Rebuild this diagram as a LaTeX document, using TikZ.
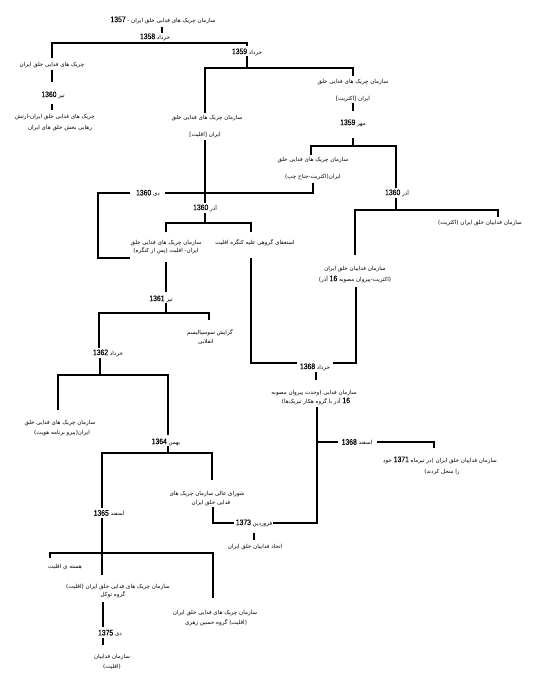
\documentclass[tikz,border=0pt]{standalone}
\usepackage{fontspec}
\TeXXeTstate=1
\newfontfamily\fa[Script=Arabic]{DejaVu Sans}
\newfontfamily\lat[FakeStretch=0.85,FakeBold=0.25]{Liberation Sans}
\newcommand\R[1]{\beginR#1\endR}
\newcommand\N[1]{\beginL{\lat\fontsize{8}{8}\selectfont #1}\endL}
\tikzset{
  fa/.style={font=\fa\fontsize{5.6}{6.5}\selectfont, inner sep=0pt},
  ln/.style={line width=1.6pt}
}
\begin{document}
\begin{tikzpicture}[x=1pt,y=-1pt]
\useasboundingbox (0,0) rectangle (550,694);
\fill[white] (0,0) rectangle (550,694);
% ---------- texts ----------
\node[fa] (t0) at (163,20) {\R{سازمان چریک های فدایی خلق ایران - \N{1357}}};
\node[fa] (d58) at (155,37) {\R{خرداد \N{1358}}};
\node[fa] (l1) at (52,65) {\R{چریک های فدایی خلق ایران}};
\node[fa] (d60a) at (53,95) {\R{تیر \N{1360}}};
\node[fa] (l2a) at (55,117) {\R{چریک های فدایی خلق ایران-ارتش}};
\node[fa] (l2b) at (60,128) {\R{رهایی بخش خلق های ایران}};
\node[fa] (d59) at (247,52) {\R{خرداد \N{1359}}};
\node[fa] (a1) at (207,118) {\R{سازمان چریک های فدایی خلق}};
\node[fa] (a2) at (205,135) {\R{ایران [اقلیت]}};
\node[fa] (b1) at (353,82) {\R{سازمان چریک های فدایی خلق}};
\node[fa] (b2) at (353,99) {\R{ایران [اکثریت]}};
\node[fa] (dmehr) at (353,123) {\R{مهر \N{1359}}};
\node[fa] (c1) at (313,160) {\R{سازمان چریک های فدایی خلق}};
\node[fa] (c2) at (313,177) {\R{ایران(اکثریت-جناح چپ)}};
\node[fa] (ddey) at (148,193) {\R{دی \N{1360}}};
\node[fa] (dazar1) at (397,193) {\R{آذر \N{1360}}};
\node[fa] (e) at (480,223) {\R{سازمان فداییان خلق ایران (اکثریت)}};
\node[fa] (f1) at (355,269) {\R{سازمان فداییان خلق ایران}};
\node[fa] (f2) at (355,279) {\R{(اکثریت-پیروان مصوبه \N{16} آذر)}};
\node[fa] (dazar2) at (205,208) {\R{آذر \N{1360}}};
\node[fa] (g1) at (166,243) {\R{سازمان چریک های فدایی خلق}};
\node[fa] (g2) at (166,251) {\R{ایران- اقلیت (پس از کنگره)}};
\node[fa] (h) at (255,243) {\R{استعفای گروهی علیه کنگره اقلیت}};
\node[fa] (d61) at (161,299) {\R{تیر \N{1361}}};
\node[fa] (i1) at (210,333) {\R{گرایش سوسیالیسم}};
\node[fa] (i2) at (206,342) {\R{انقلابی}};
\node[fa] (d62) at (108,353) {\R{خرداد \N{1362}}};
\node[fa] (j1) at (60,423) {\R{سازمان چریک های فدایی خلق}};
\node[fa] (j2) at (62,433) {\R{ایران(پیرو برنامه هویت)}};
\node[fa] (d64) at (166,442) {\R{بهمن \N{1364}}};
\node[fa] (d68) at (315,367) {\R{خرداد \N{1368}}};
\node[fa] (k1) at (314,393) {\R{سازمان فدایی (وحدت پیروان مصوبه}};
\node[fa] (k2) at (316,401) {\R{\N{16} آذر با گروه هکار تیزبک‌ها)}};
\node[fa] (d68b) at (357,442) {\R{اسفند \N{1368}}};
\node[fa] (L1) at (440,460) {\R{سازمان فداییان خلق ایران (در تیرماه \N{1371} خود}};
\node[fa] (L2) at (442,472) {\R{را منحل کردند)}};
\node[fa] (m1) at (207,494) {\R{شورای عالی سازمان چریک های}};
\node[fa] (m2) at (211,503) {\R{فدایی خلق ایران}};
\node[fa] (d73) at (254,523) {\R{فروردین \N{1373}}};
\node[fa] (n) at (255,547) {\R{اتحاد فداییان خلق ایران}};
\node[fa] (d65) at (109,513) {\R{اسفند \N{1365}}};
\node[fa] (o) at (65,567) {\R{هسته ی اقلیت}};
\node[fa] (p1) at (118,587) {\R{سازمان چریک های فدایی خلق ایران (اقلیت)}};
\node[fa] (p2) at (113,595) {\R{گروه توکل}};
\node[fa] (d75) at (110,633) {\R{دی \N{1375}}};
\node[fa] (q1) at (112,657) {\R{سازمان فداییان}};
\node[fa] (q2) at (112,667) {\R{(اقلیت)}};
\node[fa] (r1) at (215,613) {\R{سازمان چریک های فدایی خلق ایران}};
\node[fa] (r2) at (216,623) {\R{(اقلیت) گروه حسین زهری}};
% ---------- junction coordinates ----------
\coordinate (p1a) at (162,27); \coordinate (p1b) at (162,33);
\coordinate (p2a) at (52,58); \coordinate (p2b) at (52,43); \coordinate (p2c) at (247,43); \coordinate (p2d) at (247,46);
\coordinate (p3a) at (52,70); \coordinate (p3b) at (52,82);
\coordinate (p4a) at (52,104); \coordinate (p4b) at (52,110);
\coordinate (p5a) at (247,56); \coordinate (p5b) at (247,68);
\coordinate (p6a) at (205,113); \coordinate (p6b) at (205,68); \coordinate (p6c) at (353,68); \coordinate (p6d) at (353,76);
\coordinate (p7a) at (353,103); \coordinate (p7b) at (353,111);
\coordinate (p8a) at (353,138); \coordinate (p8b) at (353,146);
\coordinate (p9a) at (311,155); \coordinate (p9b) at (311,146); \coordinate (p9c) at (396,146); \coordinate (p9d) at (396,188);
\coordinate (p10a) at (396,198); \coordinate (p10b) at (396,210);
\coordinate (p11a) at (355,255); \coordinate (p11b) at (355,210); \coordinate (p11c) at (498,210); \coordinate (p11d) at (498,217);
\coordinate (p12a) at (313,183); \coordinate (p12b) at (313,193); \coordinate (p12c) at (165,193);
\coordinate (p13a) at (130,193); \coordinate (p13b) at (98,193); \coordinate (p13c) at (98,258); \coordinate (p13d) at (130,258);
\coordinate (p14a) at (205,140); \coordinate (p14b) at (205,203);
\coordinate (p15a) at (205,213); \coordinate (p15b) at (205,223);
\coordinate (p16a) at (166,232); \coordinate (p16b) at (166,223); \coordinate (p16c) at (251,223); \coordinate (p16d) at (251,232);
\coordinate (p17a) at (251,258); \coordinate (p17b) at (251,363); \coordinate (p17c) at (297,363);
\coordinate (p18a) at (333,363); \coordinate (p18b) at (356,363); \coordinate (p18c) at (356,287);
\coordinate (p19a) at (166,262); \coordinate (p19b) at (166,292);
\coordinate (p20a) at (166,303); \coordinate (p20b) at (166,313);
\coordinate (p21a) at (99,348); \coordinate (p21b) at (99,313); \coordinate (p21c) at (209,313); \coordinate (p21d) at (209,320);
\coordinate (p22a) at (100,358); \coordinate (p22b) at (100,375);
\coordinate (p23a) at (58,410); \coordinate (p23b) at (58,375); \coordinate (p23c) at (168,375); \coordinate (p23d) at (168,435);
\coordinate (p24a) at (168,446); \coordinate (p24b) at (168,453);
\coordinate (p25a) at (102,508); \coordinate (p25b) at (102,453); \coordinate (p25c) at (212,453); \coordinate (p25d) at (212,480);
\coordinate (p26a) at (102,518); \coordinate (p26b) at (102,575);
\coordinate (p27a) at (50,558); \coordinate (p27b) at (50,553); \coordinate (p27c) at (213,553); \coordinate (p27d) at (213,598);
\coordinate (p28a) at (213,507); \coordinate (p28b) at (213,523); \coordinate (p28c) at (234,523);
\coordinate (p29a) at (273,523); \coordinate (p29b) at (317,523); \coordinate (p29c) at (317,407);
\coordinate (p30a) at (254,533); \coordinate (p30b) at (254,540);
\coordinate (p31a) at (316,372); \coordinate (p31b) at (316,380);
\coordinate (p32a) at (316,442); \coordinate (p32b) at (338,442);
\coordinate (p33a) at (377,442); \coordinate (p33b) at (434,442); \coordinate (p33c) at (434,448);
\coordinate (p34a) at (103,602); \coordinate (p34b) at (103,627);
\coordinate (p35a) at (103,638); \coordinate (p35b) at (103,645);
% ---------- connectors ----------
\draw[ln] (p1a) -- (p1b);
\draw[ln] (p2a) -- (p2b) -- (p2c) -- (p2d);
\draw[ln] (p3a) -- (p3b);
\draw[ln] (p4a) -- (p4b);
\draw[ln] (p5a) -- (p5b);
\draw[ln] (p6a) -- (p6b) -- (p6c) -- (p6d);
\draw[ln] (p7a) -- (p7b);
\draw[ln] (p8a) -- (p8b);
\draw[ln] (p9a) -- (p9b) -- (p9c) -- (p9d);
\draw[ln] (p10a) -- (p10b);
\draw[ln] (p11a) -- (p11b) -- (p11c) -- (p11d);
\draw[ln] (p12a) -- (p12b) -- (p12c);
\draw[ln] (p13a) -- (p13b) -- (p13c) -- (p13d);
\draw[ln] (p14a) -- (p14b);
\draw[ln] (p15a) -- (p15b);
\draw[ln] (p16a) -- (p16b) -- (p16c) -- (p16d);
\draw[ln] (p17a) -- (p17b) -- (p17c);
\draw[ln] (p18a) -- (p18b) -- (p18c);
\draw[ln] (p19a) -- (p19b);
\draw[ln] (p20a) -- (p20b);
\draw[ln] (p21a) -- (p21b) -- (p21c) -- (p21d);
\draw[ln] (p22a) -- (p22b);
\draw[ln] (p23a) -- (p23b) -- (p23c) -- (p23d);
\draw[ln] (p24a) -- (p24b);
\draw[ln] (p25a) -- (p25b) -- (p25c) -- (p25d);
\draw[ln] (p26a) -- (p26b);
\draw[ln] (p27a) -- (p27b) -- (p27c) -- (p27d);
\draw[ln] (p28a) -- (p28b) -- (p28c);
\draw[ln] (p29a) -- (p29b) -- (p29c);
\draw[ln] (p30a) -- (p30b);
\draw[ln] (p31a) -- (p31b);
\draw[ln] (p32a) -- (p32b);
\draw[ln] (p33a) -- (p33b) -- (p33c);
\draw[ln] (p34a) -- (p34b);
\draw[ln] (p35a) -- (p35b);
\end{tikzpicture}
\end{document}
